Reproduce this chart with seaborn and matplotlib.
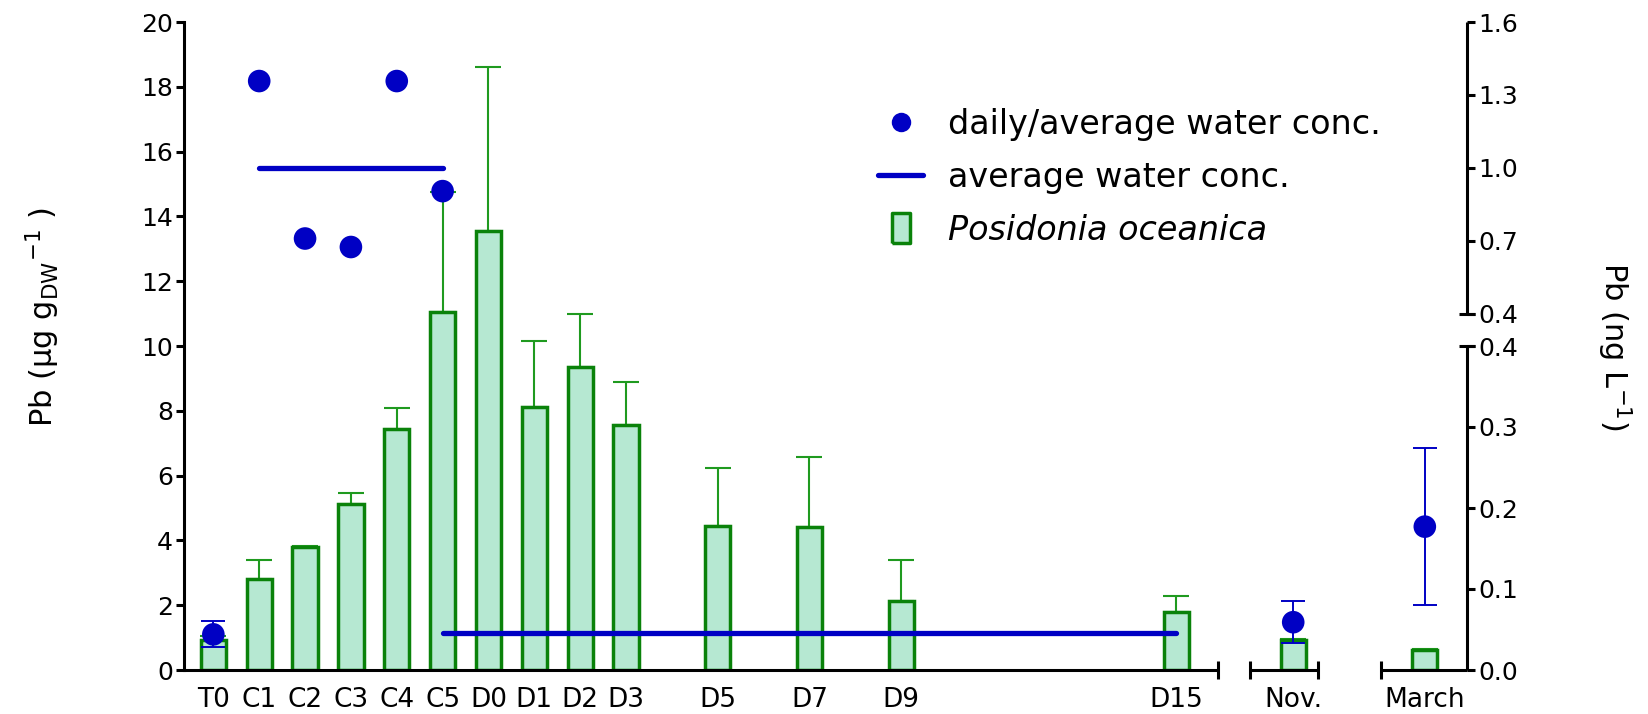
import numpy as np
import pandas as pd
import matplotlib
matplotlib.use("Agg")
import matplotlib.pyplot as plt
import matplotlib.transforms as mtransforms
from matplotlib.lines import Line2D
import seaborn as sns

# ---------------- data ----------------
sample_labels = ["T0", "C1", "C2", "C3", "C4", "C5", "D0", "D1", "D2", "D3", "D5", "D7", "D9", "D15"]
sample_days = [0, 1, 2, 3, 4, 5, 6, 7, 8, 9, 11, 13, 15, 21]
field_labels = ["Nov.", "March"]

# Posidonia oceanica Pb (ug/g DW) and upper SD
plant_pb = [0.93, 2.81, 3.80, 5.13, 7.43, 11.05, 13.55, 8.12, 9.35, 7.56, 4.45, 4.42, 2.14, 1.79, 0.93, 0.62]
plant_sd = [0.12, 0.60, 0.03, 0.32, 0.65, 3.69, 5.05, 2.04, 1.65, 1.34, 1.78, 2.14, 1.24, 0.49, 0.03, 0.03]

# water Pb (ng/L), daily values during exposure (T0..C5)
water_daily_labels = ["T0", "C1", "C2", "C3", "C4", "C5"]
water_daily = [0.044, 1.357, 0.709, 0.674, 1.357, 0.904]
water_t0_sd = 0.016
# average water concentration during exposure (C1..C5) and depuration (C5..D15)
avg_exposure = 1.0
avg_exposure_span = ["C1", "C5"]
avg_depuration = 0.046
avg_depuration_span = ["C5", "D15"]
# field water samples
field_water = [0.059, 0.177]
field_water_sd = [0.026, 0.097]

# right axis tick values (broken scale)
right_ticks_low = [0.0, 0.1, 0.2, 0.3, 0.4]
right_ticks_high = [0.4, 0.7, 1.0, 1.3, 1.6]

# ---------------- layout helpers ----------------
BREAK_LOW = 0.4      # top of lower right-axis section (ng/L)
LOW_SCALE = 25.0     # left units per ng/L in lower section
HIGH_BASE = 11.0     # left-axis value where upper section starts
HIGH_SCALE = 7.5     # left units per ng/L in upper section


def water_to_left(v, upper=None):
    v = np.asarray(v, dtype=float)
    if upper is None:
        upper = v > BREAK_LOW
    return np.where(upper, HIGH_BASE + (v - BREAK_LOW) * HIGH_SCALE, v * LOW_SCALE)


pos_of = dict(zip(sample_labels, [float(d) for d in sample_days]))
nov_x = sample_days[-1] + 2.55
march_x = nov_x + 2.87
field_x = [nov_x, march_x]
all_x = [float(d) for d in sample_days] + field_x
all_labels = sample_labels + field_labels

xmin, xmax = -0.64, march_x + 0.92
segments = [(xmin, sample_days[-1] + 0.9), (nov_x - 0.95, nov_x + 0.53), (march_x - 0.96, xmax)]

# ---------------- style ----------------
sns.set_theme(style="white")
plt.rcParams["font.family"] = ["DejaVu Sans"]
plt.rcParams["mathtext.fontset"] = "dejavusans"
for k in ["text.color", "axes.labelcolor", "xtick.color", "ytick.color"]:
    plt.rcParams[k] = "black"

fill_c = "#b6e8d2"
edge_c = "#0a820a"
err_c = "#1f9a1f"
blue = "#0000c4"
lw_axis = 2.2

fig = plt.figure(figsize=(16.49, 7.14), dpi=100)
ax = fig.add_axes([184 / 1649, 44 / 714, 1283 / 1649, 648 / 714])

df = pd.DataFrame({"x": all_x, "pb": plant_pb})
sns.barplot(data=df, x="x", y="pb", native_scale=True, width=0.55, color=fill_c,
            saturation=1, edgecolor=edge_c, linewidth=2.5, errorbar=None, ax=ax, zorder=3)

ax.errorbar(all_x, plant_pb, yerr=[np.zeros(len(plant_sd)), plant_sd], fmt="none",
            ecolor=err_c, elinewidth=1.5, capsize=9.5, capthick=1.5, zorder=2)

# average water lines
exp_df = pd.DataFrame({"x": [pos_of[s] for s in avg_exposure_span],
                       "y": water_to_left([avg_exposure] * 2)})
dep_df = pd.DataFrame({"x": [pos_of[s] for s in avg_depuration_span],
                       "y": water_to_left([avg_depuration] * 2)})
for d in (exp_df, dep_df):
    sns.lineplot(data=d, x="x", y="y", color=blue, linewidth=3.8, ax=ax, zorder=4,
                 estimator=None, sort=False)

# daily water dots
daily_df = pd.DataFrame({"x": [pos_of[s] for s in water_daily_labels],
                         "y": water_to_left(water_daily)})
ax.errorbar([pos_of["T0"]], water_to_left([water_daily[0]]), yerr=[water_t0_sd * LOW_SCALE],
            fmt="none", ecolor=blue, elinewidth=1.4, capsize=8.5, capthick=1.4, zorder=5)
ax.errorbar(field_x, water_to_left(field_water), yerr=np.array(field_water_sd) * LOW_SCALE,
            fmt="none", ecolor=blue, elinewidth=1.4, capsize=8.5, capthick=1.4, zorder=5)
field_df = pd.DataFrame({"x": field_x, "y": water_to_left(field_water)})
dots = pd.concat([daily_df, field_df])
sns.scatterplot(data=dots, x="x", y="y", color=blue, s=265, edgecolor="none", ax=ax, zorder=6)

# ---------------- axes ----------------
ax.set_xlim(xmin, xmax)
ax.set_ylim(0, 20)
ax.set_yticks(np.arange(0, 21, 2))
ax.set_xticks(all_x)
ax.set_xticklabels(all_labels)
ax.tick_params(axis="x", length=0, pad=12, labelsize=19)
ax.tick_params(axis="y", direction="out", length=6, width=lw_axis, labelsize=18, pad=2, left=True)
for s in ["top", "right", "bottom"]:
    ax.spines[s].set_visible(False)
ax.spines["left"].set_linewidth(lw_axis)
ax.spines["left"].set_color("black")
ax.set_xlabel("")
ax.set_ylabel(r"Pb (µg g$_{\mathrm{DW}}$$^{\mathrm{-1}}$ )", fontsize=22)
ax.yaxis.set_label_coords(-0.095, 0.545)

# broken x axis
for a, b in segments:
    ax.plot([a, b], [0, 0], color="black", lw=lw_axis, clip_on=False, zorder=7,
            solid_capstyle="butt")
caps = [segments[0][1], segments[1][0], segments[1][1], segments[2][0]]
ax.plot(caps, [0] * len(caps), ls="none", marker="|", markersize=13, mew=lw_axis,
        color="black", clip_on=False, zorder=7)

# right (broken) axis
ax2 = ax.twinx()
ax2.set_ylim(0, 20)
for s in ax2.spines.values():
    s.set_visible(False)
low_pos = water_to_left(right_ticks_low, upper=False)
high_pos = water_to_left(right_ticks_high, upper=True)
ax2.set_yticks(list(low_pos) + list(high_pos))
ax2.set_yticklabels([f"{v:.1f}" for v in right_ticks_low + right_ticks_high])
ax2.tick_params(axis="y", direction="out", length=6, width=lw_axis, labelsize=18, pad=2, right=True)
ax2.grid(False)
tr = mtransforms.blended_transform_factory(ax.transAxes, ax.transData)
ax.plot([1, 1], [low_pos[0], low_pos[-1]], color="black", lw=lw_axis, transform=tr,
        clip_on=False, zorder=7, solid_capstyle="butt")
ax.plot([1, 1], [high_pos[0], high_pos[-1]], color="black", lw=lw_axis, transform=tr,
        clip_on=False, zorder=7, solid_capstyle="butt")
ax.plot([1, 1], [low_pos[-1], high_pos[0]], ls="none", marker="_", markersize=11,
        mew=lw_axis, color="black", transform=tr, clip_on=False, zorder=7)
ax2.set_ylabel(r"Pb (ng L$^{\mathrm{-1}}$)", fontsize=22, rotation=270)
ax2.yaxis.set_label_coords(1.13, 0.5)

# legend
rect = [(-0.3, -0.5), (0.3, -0.5), (0.3, 0.5), (-0.3, 0.5), (-0.3, -0.5)]
handles = [
    Line2D([], [], ls="none", marker="o", markersize=14, color=blue, mec="none"),
    Line2D([], [], color=blue, lw=3.8),
    Line2D([], [], ls="none", marker=rect, markersize=22, mfc=fill_c, mec=edge_c, mew=2.5),
]
labels = ["daily/average water conc.", "average water conc.", "Posidonia oceanica"]
leg = ax.legend(handles, labels, loc="upper left", bbox_to_anchor=(0.541, 0.868),
                frameon=False, fontsize=24, handlelength=1.35, handletextpad=0.75,
                labelspacing=0.6, borderpad=0, borderaxespad=0)
leg.get_texts()[2].set_fontstyle("italic")

fig.savefig("out.png", dpi=100)
